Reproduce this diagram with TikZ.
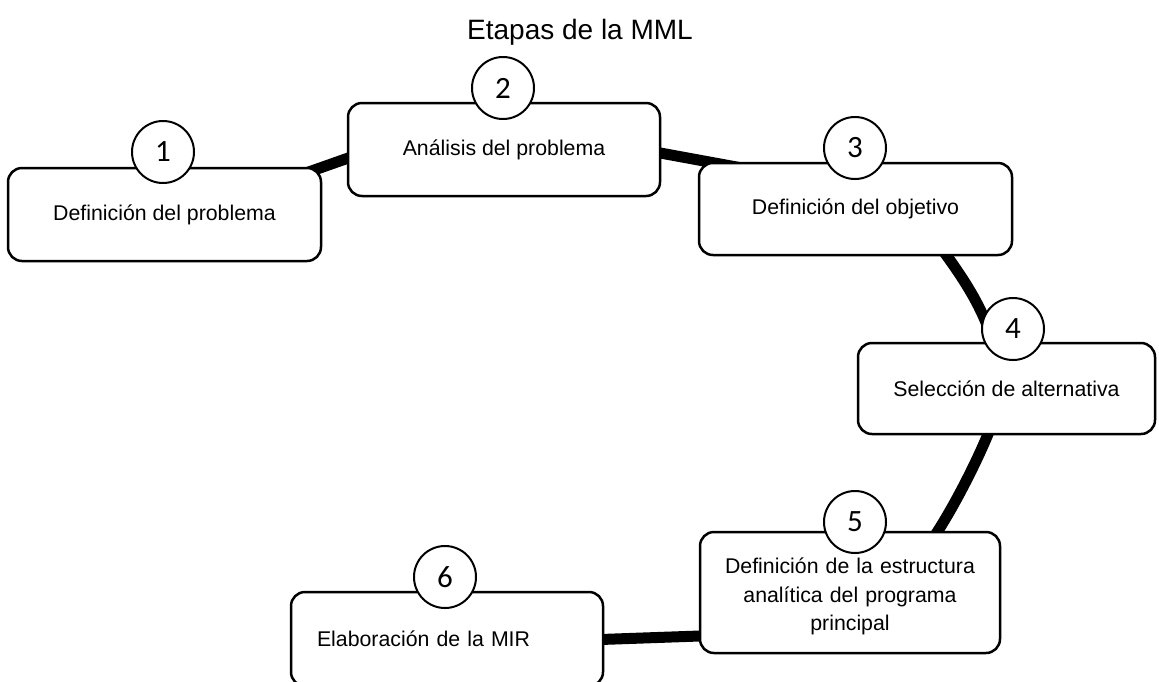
\documentclass[tikz,border=0pt]{standalone}
\usepackage{fontspec}
\setmainfont{Liberation Sans}
\newfontfamily\numfont{Carlito}
\usetikzlibrary{calc}
\pgfdeclarelayer{bg}
\pgfsetlayers{bg,main}
\begin{document}
\begin{tikzpicture}[x=1pt,y=-1pt,
  stagebox/.style={draw=black,line width=2.5pt,fill=white,rounded corners=14pt,
    inner sep=0pt,font=\fontsize{21.3}{28.5}\selectfont,align=center},
  numcircle/.style={draw=black,line width=2pt,fill=white,circle,minimum size=62pt,
    inner sep=0pt,font=\numfont\fontsize{31}{34}\selectfont},
  link/.style={line width=11pt,black}]
\useasboundingbox (0,0) rectangle (1159,681);
\node[font=\fontsize{28}{32}\selectfont] (title) at (580,32) {Etapas de la MML};
% boxes
\node[stagebox,minimum width=313pt,minimum height=93pt] (b1) at (164.5,214.5) {Definición del problema};
\node[stagebox,minimum width=312pt,minimum height=93pt] (b2) at (504,149.5) {Análisis del problema};
\node[stagebox,minimum width=313pt,minimum height=92pt] (b3) at (855.5,209) {Definición del objetivo};
\node[stagebox,minimum width=297pt,minimum height=91pt] (b4) at (1006.5,388.5) {Selección de alternativa};
\node[stagebox,minimum width=300pt,minimum height=121pt,text width=280pt] (b5) at (850,592.5) {\rule{0pt}{24pt}Definición de la estructura\\analítica del programa\\principal};
\node[stagebox,minimum width=312pt,minimum height=94pt,text width=260pt,inner xsep=26pt,align=left] (b6) at (447,639) {Elaboración de la MIR};
% circles
\node[numcircle] (c1) at (163,152) {1};
\node[numcircle] (c2) at (503,88) {2};
\node[numcircle] (c3) at (855,148) {3};
\node[numcircle] (c4) at (1013,329) {4};
\node[numcircle] (c5) at (855,522) {5};
\node[numcircle] (c6) at (445,577) {6};
% connectors
\begin{pgfonlayer}{bg}
\coordinate (p1a) at ([xshift=-20pt,yshift=-7.5pt]b1.north east);
\coordinate (p1b) at ([xshift=22pt,yshift=-1.3pt]b2.west);
\draw[link] (p1a) -- (p1b);
\coordinate (p2a) at ([xshift=-20pt]b2.east);
\coordinate (p2b) at ([xshift=81pt,yshift=-13pt]b3.north west);
\draw[link] (p2a) -- (p2b);
\coordinate (p3a) at ([xshift=-72pt,yshift=8pt]b3.south east);
\coordinate (p3b) at ([xshift=-23pt,yshift=-4pt]c4.center);
\draw[link] (p3a) .. controls (962.5,277) and (979.5,303) .. (p3b);
\coordinate (p4a) at ([xshift=-13.5pt,yshift=14pt]b4.south);
\coordinate (p4b) at ([xshift=-72pt,yshift=-13pt]b5.north east);
\draw[link] (p4a) .. controls (982,452) and (952,512) .. (p4b);
\coordinate (p5a) at ([xshift=-18pt,yshift=-1pt]b6.east);
\coordinate (p5b) at ([xshift=15pt,yshift=-43pt]b5.west);
\draw[link] (p5a) -- (p5b);
\end{pgfonlayer}
\end{tikzpicture}
\end{document}
